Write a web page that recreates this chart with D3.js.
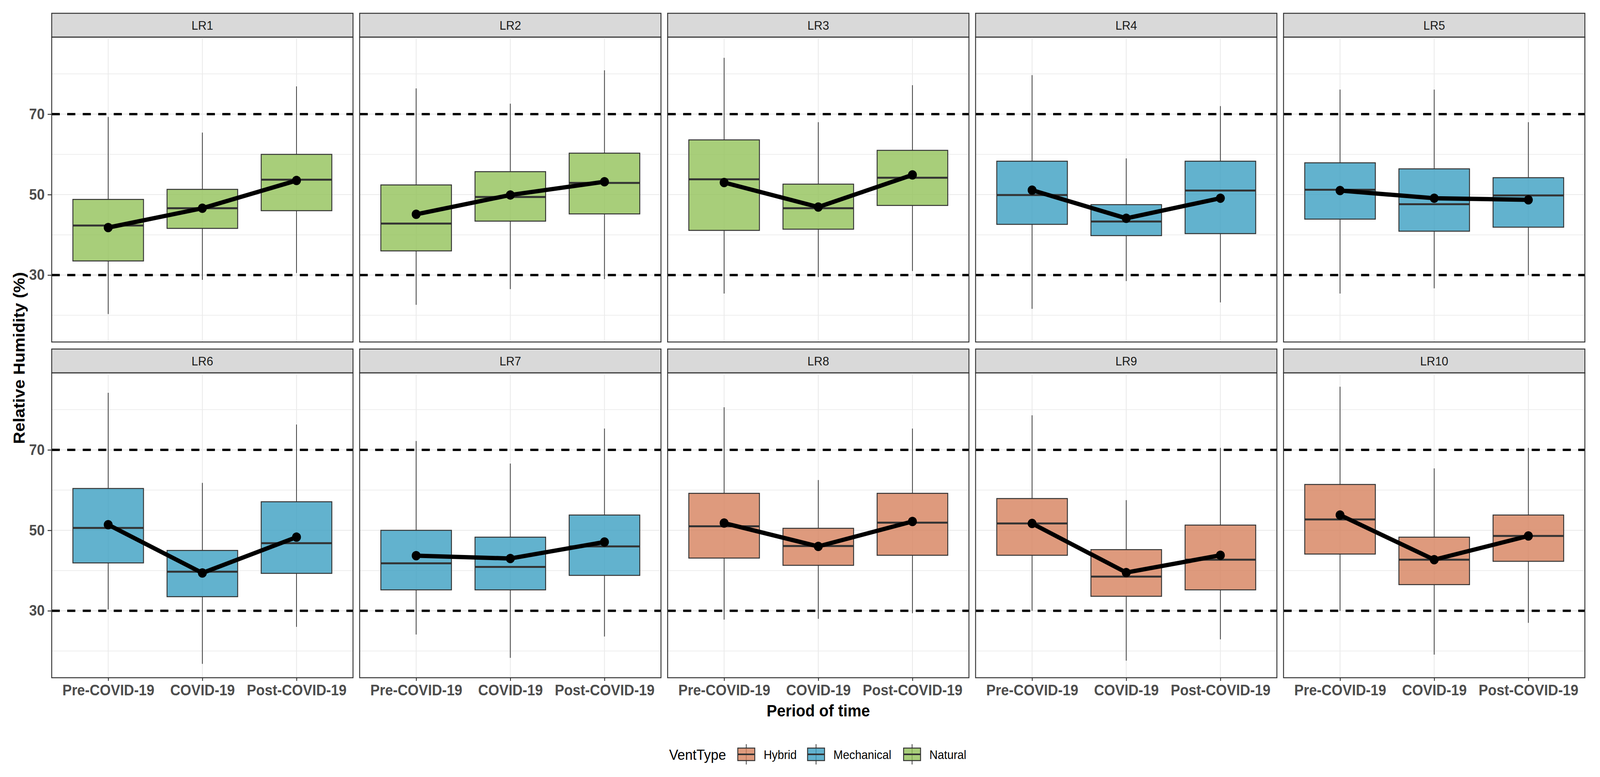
<!DOCTYPE html>
<html>
<head>
<meta charset="utf-8">
<script src="https://cdn.jsdelivr.net/npm/d3@7"></script>
<style>
    html, body { margin: 0; padding: 0; overflow: hidden; background: #ffffff; }
    svg { display: block; width: 100vw; height: 100vh; font-family: "Liberation Sans", Arial, sans-serif; }
</style>
</head>
<body>
<div id="chart"></div>
<script>
'use strict';

// -----------------------------------------------------
// Data

const rooms = ['LR1', 'LR2', 'LR3', 'LR4', 'LR5', 'LR6', 'LR7', 'LR8', 'LR9', 'LR10'];
const periods = ['Pre-COVID-19', 'COVID-19', 'Post-COVID-19'];
const ventTypes = ['Hybrid', 'Mechanical', 'Natural'];
const roomVentType = ['Natural', 'Natural', 'Natural', 'Mechanical', 'Mechanical',
                      'Mechanical', 'Mechanical', 'Hybrid', 'Hybrid', 'Hybrid'];

// One row per room, one value per period.
const whiskerLow = [
    [20.3, 28.8, 30.5], [22.6, 26.5, 29.0], [25.4, 29.5, 31.0], [21.6, 28.5, 23.2], [25.4, 26.7, 30.0],
    [30.3, 16.8, 26.0], [24.1, 18.3, 23.6], [27.8, 28.0, 29.4], [30.0, 17.6, 22.9], [30.0, 19.1, 27.0]
];
const lowerQuartile = [
    [33.5, 41.6, 46.0], [36.0, 43.4, 45.2], [41.1, 41.4, 47.3], [42.6, 39.8, 40.3], [43.9, 40.9, 41.9],
    [41.9, 33.5, 39.3], [35.2, 35.2, 38.8], [43.1, 41.3, 43.8], [43.8, 33.6, 35.2], [44.1, 36.5, 42.3]
];
const median = [
    [42.3, 46.6, 53.7], [42.8, 49.4, 52.9], [53.8, 46.6, 54.2], [49.9, 43.3, 51.0], [51.2, 47.6, 49.8],
    [50.6, 39.7, 46.8], [41.8, 40.9, 46.0], [51.0, 46.1, 51.9], [51.7, 38.5, 42.7], [52.7, 42.7, 48.6]
];
const upperQuartile = [
    [48.8, 51.3, 60.0], [52.4, 55.7, 60.3], [63.6, 52.6, 61.0], [58.3, 47.5, 58.3], [57.9, 56.4, 54.2],
    [60.4, 45.0, 57.1], [50.0, 48.3, 53.8], [59.2, 50.5, 59.2], [57.9, 45.2, 51.3], [61.4, 48.3, 53.8]
];
const whiskerHigh = [
    [69.3, 65.4, 76.9], [76.4, 72.6, 80.9], [84.0, 68.0, 77.2], [79.7, 59.0, 72.0], [76.1, 76.1, 68.0],
    [84.2, 61.8, 76.3], [72.2, 66.6, 75.3], [80.6, 62.5, 75.3], [78.6, 57.5, 70.5], [85.7, 65.4, 70.5]
];
const mean = [
    [41.8, 46.6, 53.5], [45.1, 49.9, 53.2], [53.0, 46.9, 54.9], [51.1, 44.1, 49.1], [51.0, 49.1, 48.7],
    [51.4, 39.4, 48.3], [43.7, 43.0, 47.1], [51.8, 46.0, 52.2], [51.7, 39.5, 43.8], [53.8, 42.7, 48.6]
];

const yBreaks = [30, 50, 70];
const yMinorBreaks = [20, 40, 60, 80];
const thresholds = [30, 70];

// -----------------------------------------------------
// Layout

const width = 4333;
const height = 1988;
const panelLeft = 140;
const panelTop = 34;
const panelWidth = 816;
const panelHeight = 780;
const stripHeight = 61;
const gap = 18;
const nCols = 5;

const fillColour = d3.scaleOrdinal()
    .domain(ventTypes)
    .range(['#d6815c', '#3b9fc2', '#92c259']);

// Package everything per room so each facet can be drawn from one datum.
const facets = rooms.map((room, r) => ({
    room: room,
    ventType: roomVentType[r],
    col: r % nCols,
    row: Math.floor(r / nCols),
    stats: periods.map((period, p) => ({
        period: period,
        low: whiskerLow[r][p],
        q1: lowerQuartile[r][p],
        median: median[r][p],
        q3: upperQuartile[r][p],
        high: whiskerHigh[r][p],
        mean: mean[r][p]
    }))
}));

// Shared y domain with ggplot's 5% expansion
const yMin = d3.min(whiskerLow.flat());
const yMax = d3.max(whiskerHigh.flat());
const yPad = (yMax - yMin) * 0.05;

const y = d3.scaleLinear()
    .domain([yMin - yPad, yMax + yPad])
    .range([panelHeight, 0]);

// Discrete x scale with 0.6 expansion on both sides
const xIndex = d3.scaleLinear()
    .domain([0.4, periods.length + 0.6])
    .range([0, panelWidth]);
const x = period => xIndex(periods.indexOf(period) + 1);
const boxWidth = xIndex(1.75) - xIndex(1);

// -----------------------------------------------------
// Canvas (scaled to whatever the window really is)

const svg = d3.select('#chart')
    .append('svg')
      .attr('viewBox', `0 0 ${width} ${height}`)
      .attr('preserveAspectRatio', 'none');

svg.append('rect')
    .attr('width', width)
    .attr('height', height)
    .attr('fill', '#ffffff');

const facet = svg.selectAll('g.facet')
    .data(facets)
    .enter()
    .append('g')
      .attr('class', 'facet')
      .attr('transform', d => `translate(${panelLeft + d.col * (panelWidth + gap)}, ${panelTop + d.row * (stripHeight + panelHeight + gap) + stripHeight})`);

// Strip on top of every panel
facet.append('rect')
    .attr('x', 0)
    .attr('y', -stripHeight)
    .attr('width', panelWidth)
    .attr('height', stripHeight)
    .attr('fill', '#d9d9d9')
    .attr('stroke', '#333333')
    .attr('stroke-width', 2.5);

facet.append('text')
    .attr('x', panelWidth / 2)
    .attr('y', -stripHeight / 2)
    .attr('dy', '0.36em')
    .attr('text-anchor', 'middle')
    .attr('font-size', 32)
    .attr('fill', '#1a1a1a')
    .text(d => d.room);

// Grid lines
facet.selectAll('line.minor')
    .data(yMinorBreaks)
    .enter()
    .append('line')
      .attr('x1', 0)
      .attr('x2', panelWidth)
      .attr('y1', d => y(d))
      .attr('y2', d => y(d))
      .attr('stroke', '#ebebeb')
      .attr('stroke-width', 1.8);

facet.selectAll('line.major')
    .data(yBreaks)
    .enter()
    .append('line')
      .attr('x1', 0)
      .attr('x2', panelWidth)
      .attr('y1', d => y(d))
      .attr('y2', d => y(d))
      .attr('stroke', '#ebebeb')
      .attr('stroke-width', 2.4);

facet.selectAll('line.vgrid')
    .data(periods)
    .enter()
    .append('line')
      .attr('x1', d => x(d))
      .attr('x2', d => x(d))
      .attr('y1', 0)
      .attr('y2', panelHeight)
      .attr('stroke', '#ebebeb')
      .attr('stroke-width', 2.4);

// Boxplots
const box = facet.selectAll('g.box')
    .data(d => d.stats.map(s => Object.assign({ventType: d.ventType}, s)))
    .enter()
    .append('g')
      .attr('class', 'box');

box.append('line')
    .attr('x1', d => x(d.period))
    .attr('x2', d => x(d.period))
    .attr('y1', d => y(d.high))
    .attr('y2', d => y(d.q3))
    .attr('stroke', '#333333')
    .attr('stroke-width', 2);

box.append('line')
    .attr('x1', d => x(d.period))
    .attr('x2', d => x(d.period))
    .attr('y1', d => y(d.q1))
    .attr('y2', d => y(d.low))
    .attr('stroke', '#333333')
    .attr('stroke-width', 2);

box.append('rect')
    .attr('x', d => x(d.period) - boxWidth / 2)
    .attr('y', d => y(d.q3))
    .attr('width', boxWidth)
    .attr('height', d => y(d.q1) - y(d.q3))
    .attr('fill', d => fillColour(d.ventType))
    .attr('fill-opacity', 0.8)
    .attr('stroke', '#333333')
    .attr('stroke-width', 2.5);

box.append('line')
    .attr('x1', d => x(d.period) - boxWidth / 2)
    .attr('x2', d => x(d.period) + boxWidth / 2)
    .attr('y1', d => y(d.median))
    .attr('y2', d => y(d.median))
    .attr('stroke', '#333333')
    .attr('stroke-width', 5);

// Dashed comfort thresholds
facet.selectAll('line.threshold')
    .data(thresholds)
    .enter()
    .append('line')
      .attr('x1', 0)
      .attr('x2', panelWidth)
      .attr('y1', d => y(d))
      .attr('y2', d => y(d))
      .attr('stroke', '#000000')
      .attr('stroke-width', 6)
      .attr('stroke-dasharray', '22,20');

// Mean line and points
const meanLine = d3.line()
    .x(d => x(d.period))
    .y(d => y(d.mean));

facet.append('path')
    .attr('d', d => meanLine(d.stats))
    .attr('fill', 'none')
    .attr('stroke', '#000000')
    .attr('stroke-width', 11)
    .attr('stroke-linejoin', 'round');

facet.selectAll('circle.mean')
    .data(d => d.stats)
    .enter()
    .append('circle')
      .attr('cx', d => x(d.period))
      .attr('cy', d => y(d.mean))
      .attr('r', 12)
      .attr('fill', '#000000');

// Panel border
facet.append('rect')
    .attr('width', panelWidth)
    .attr('height', panelHeight)
    .attr('fill', 'none')
    .attr('stroke', '#333333')
    .attr('stroke-width', 2.5);

// -----------------------------------------------------
// Axes

const yAxis = d3.axisLeft(y)
    .tickValues(yBreaks)
    .tickSize(11)
    .tickPadding(8);

facet.filter(d => d.col === 0)
    .append('g')
      .call(yAxis)
      .call(g => g.select('.domain').remove())
      .call(g => g.selectAll('line').attr('stroke', '#333333').attr('stroke-width', 2.4))
      .call(g => g.selectAll('text')
          .attr('font-size', 38)
          .attr('font-weight', 'bold')
          .attr('font-family', '"Liberation Sans", Arial, sans-serif')
          .attr('fill', '#4d4d4d'));

const xBand = d3.scalePoint()
    .domain(periods)
    .range([x(periods[0]), x(periods[periods.length - 1])]);

const xAxis = d3.axisBottom(xBand)
    .tickSize(8)
    .tickPadding(10);

facet.filter(d => d.row === 1)
    .append('g')
      .attr('transform', `translate(0, ${panelHeight})`)
      .call(xAxis)
      .call(g => g.select('.domain').remove())
      .call(g => g.selectAll('line').attr('stroke', '#333333').attr('stroke-width', 2.4))
      .call(g => g.selectAll('text')
          .attr('font-size', 38)
          .attr('font-weight', 'bold')
          .attr('font-family', '"Liberation Sans", Arial, sans-serif')
          .attr('fill', '#4d4d4d'));

// Axis titles
const panelsRight = panelLeft + nCols * panelWidth + (nCols - 1) * gap;

svg.append('text')
    .attr('x', (panelLeft + panelsRight) / 2)
    .attr('y', 1833)
    .attr('text-anchor', 'middle')
    .attr('font-size', 42)
    .attr('font-weight', 'bold')
    .attr('fill', '#000000')
    .text('Period of time');

svg.append('text')
    .attr('transform', 'translate(67, 916) rotate(-90)')
    .attr('text-anchor', 'middle')
    .attr('font-size', 43)
    .attr('font-weight', 'bold')
    .attr('fill', '#000000')
    .text('Relative Humidity (%)');

// -----------------------------------------------------
// Legend

const legendY = 1930;
const legend = svg.append('g');

legend.append('text')
    .attr('x', 1812)
    .attr('y', legendY + 14)
    .attr('font-size', 37)
    .attr('fill', '#000000')
    .text('VentType');

const keyX = [1998, 2187, 2447];
const keyW = 46;

const key = legend.selectAll('g.key')
    .data(ventTypes)
    .enter()
    .append('g')
      .attr('class', 'key')
      .attr('transform', (d, i) => `translate(${keyX[i]}, ${legendY})`);

key.append('line')
    .attr('x1', keyW / 2)
    .attr('x2', keyW / 2)
    .attr('y1', -26)
    .attr('y2', 26)
    .attr('stroke', '#333333')
    .attr('stroke-width', 2);

key.append('rect')
    .attr('x', 0)
    .attr('y', -16)
    .attr('width', keyW)
    .attr('height', 32)
    .attr('fill', d => fillColour(d))
    .attr('fill-opacity', 0.8)
    .attr('stroke', '#333333')
    .attr('stroke-width', 2.5);

key.append('line')
    .attr('x1', 0)
    .attr('x2', keyW)
    .attr('y1', 0)
    .attr('y2', 0)
    .attr('stroke', '#333333')
    .attr('stroke-width', 4);

key.append('text')
    .attr('x', keyW + 24)
    .attr('y', 12)
    .attr('font-size', 31)
    .attr('fill', '#000000')
    .text(d => d);
</script>
</body>
</html>
